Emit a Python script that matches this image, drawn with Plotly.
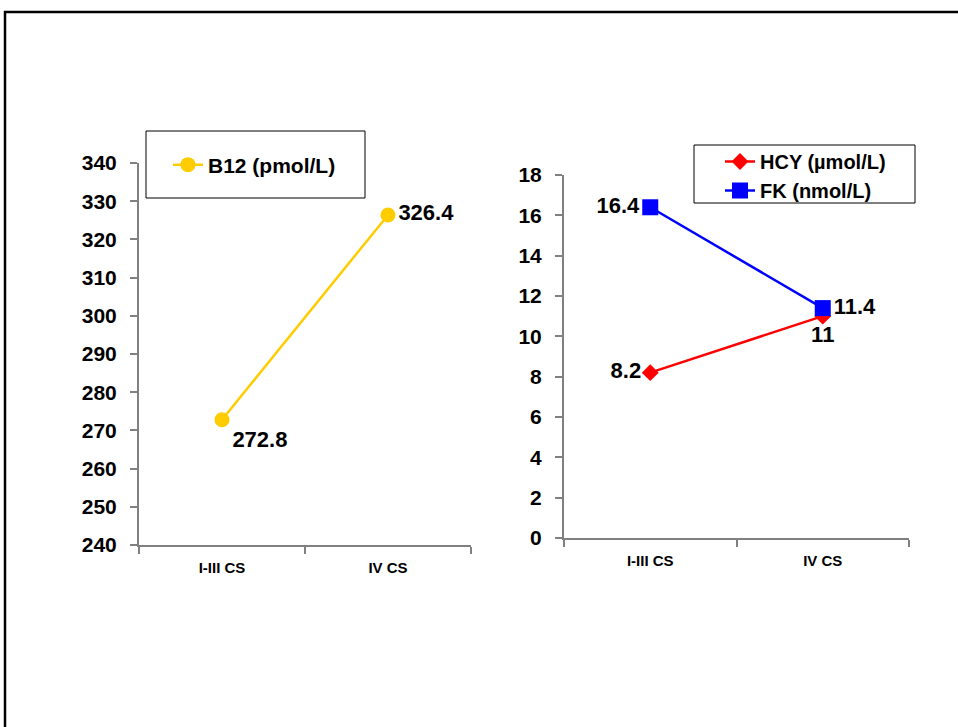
import plotly.graph_objects as go

categories = ["I-III CS", "IV CS"]
b12 = [272.8, 326.4]
hcy = [8.2, 11]
fk = [16.4, 11.4]
b12_labels = ["272.8", "326.4"]
hcy_labels = ["8.2", "11"]
fk_labels = ["16.4", "11.4"]

W, H = 958, 727
FONT = "Liberation Sans, Arial, sans-serif"

def px(x):
    return x / W

def py(y):
    return 1 - y / H

fig = go.Figure()

fig.add_trace(go.Scatter(
    x=categories, y=b12, name="<b>B12 (pmol/L)</b>", mode="lines+markers+text",
    line=dict(color="#FFCC00", width=2.5),
    marker=dict(symbol="circle", size=15, color="#FFCC00"),
    text=["<b>%s</b>" % t for t in b12_labels],
    textposition=["bottom right", "middle right"],
    textfont=dict(family=FONT, size=22, color="black"),
    xaxis="x", yaxis="y", legend="legend",
))
fig.add_trace(go.Scatter(
    x=categories, y=hcy, name="<b>HCY (µmol/L)</b>", mode="lines+markers+text",
    line=dict(color="#FF0000", width=2.5),
    marker=dict(symbol="diamond", size=13, color="#FF0000"),
    text=["<b>%s</b>" % t for t in hcy_labels],
    textposition=["middle left", "bottom center"],
    textfont=dict(family=FONT, size=22, color="black"),
    xaxis="x2", yaxis="y2", legend="legend2",
))
fig.add_trace(go.Scatter(
    x=categories, y=fk, name="<b>FK (nmol/L)</b>", mode="lines+markers+text",
    line=dict(color="#0000FF", width=2.5),
    marker=dict(symbol="square", size=16, color="#0000FF"),
    text=["<b>%s</b>" % t for t in fk_labels],
    textposition=["middle left", "middle right"],
    textfont=dict(family=FONT, size=22, color="black"),
    xaxis="x2", yaxis="y2", legend="legend2",
))

axis_common = dict(showgrid=False, zeroline=False, showline=True,
                   linecolor="#808080", linewidth=2, ticks="outside",
                   tickcolor="#808080", tickwidth=1.5, ticklen=7)

xcommon = dict(axis_common, type="category", range=[-0.5, 1.5],
               tickson="boundaries", automargin=False, ticklabelstandoff=8,
               tickfont=dict(family=FONT, size=15, color="black"))
ycommon = dict(axis_common, automargin=False, ticklabelstandoff=9,
               tickfont=dict(family=FONT, size=21, color="black"))

fig.update_layout(
    width=W, height=H,
    margin=dict(l=0, r=0, t=0, b=0, autoexpand=False),
    paper_bgcolor="white", plot_bgcolor="white",
    font=dict(family=FONT, color="black"),
    xaxis=dict(xcommon, domain=[px(139), px(471)], anchor="y"),
    yaxis=dict(ycommon, domain=[py(545), py(163)], range=[240, 340],
               tickvals=[240, 250, 260, 270, 280, 290, 300, 310, 320, 330, 340],
               ticktext=["<b>%d</b>" % v for v in range(240, 341, 10)], anchor="x"),
    xaxis2=dict(xcommon, domain=[px(564), px(909)], anchor="y2"),
    yaxis2=dict(ycommon, domain=[py(538), py(175)], range=[0, 18],
                tickvals=list(range(0, 19, 2)),
                ticktext=["<b>%d</b>" % v for v in range(0, 19, 2)], anchor="x2"),
    legend=dict(x=px(168), y=py(165), xanchor="left", yanchor="middle",
                bgcolor="rgba(0,0,0,0)", borderwidth=0,
                font=dict(family=FONT, size=21, color="black")),
    legend2=dict(x=px(720), y=py(176), xanchor="left", yanchor="middle",
                 bgcolor="rgba(0,0,0,0)", borderwidth=0,
                 font=dict(family=FONT, size=20, color="black"),
                 tracegroupgap=0),
    showlegend=True,
    shapes=[
        dict(type="rect", xref="paper", yref="paper",
             x0=px(146), x1=px(365), y0=py(198), y1=py(131),
             line=dict(color="black", width=1)),
        dict(type="rect", xref="paper", yref="paper",
             x0=px(694), x1=px(915), y0=py(203), y1=py(145),
             line=dict(color="black", width=1)),
        dict(type="rect", xref="paper", yref="paper",
             x0=px(5), x1=1.2, y0=-0.2, y1=py(12),
             line=dict(color="black", width=2.5)),
    ],
)
fig.update_xaxes(ticktext=["<b>I-III CS</b>", "<b>IV CS</b>"], tickvals=categories)

fig.write_html("out.html", config={"displayModeBar": False},
               post_script="document.body.style.margin='0';document.body.style.overflow='hidden';")
